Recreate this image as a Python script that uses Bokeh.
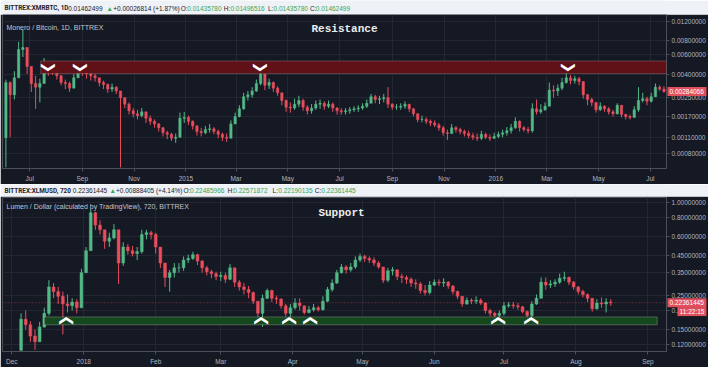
import numpy as np
import pandas as pd
from math import pi
from bokeh.plotting import figure
from bokeh.models import (Range1d, FixedTicker, Label, BoxAnnotation, Span,
                          ColumnDataSource, PrintfTickFormatter)
from bokeh.layouts import column
from bokeh.embed import file_html
from bokeh.resources import INLINE
from bokeh.core.properties import value

# ---------------- data: XMR/BTC (5-day candles) ----------------
xmr_start = "2014-06-03"
xmr_step = "5D"
xmr_open0 = 0.00110
xmr_close = [0.00341, 0.00265, 0.00376, 0.00671, 0.00698, 0.00474, 0.00334, 0.00310, 0.00334, 0.00456,
             0.00439, 0.00430, 0.00391, 0.00341, 0.00334, 0.00304, 0.00376, 0.00430, 0.00414, 0.00406,
             0.00391, 0.00376, 0.00341, 0.00328, 0.00298, 0.00310, 0.00287, 0.00250, 0.00219, 0.00191,
             0.00180, 0.00173, 0.00187, 0.00164, 0.00154, 0.00146, 0.00135, 0.00122, 0.00118, 0.00109,
             0.00111, 0.00164, 0.00167, 0.00154, 0.00140, 0.00125, 0.00122, 0.00130, 0.00132, 0.00125,
             0.00118, 0.00111, 0.00109, 0.00146, 0.00170, 0.00199, 0.00255, 0.00265, 0.00287, 0.00334,
             0.00406, 0.00322, 0.00341, 0.00304, 0.00276, 0.00236, 0.00206, 0.00202, 0.00219, 0.00236,
             0.00206, 0.00191, 0.00202, 0.00219, 0.00223, 0.00210, 0.00219, 0.00202, 0.00191, 0.00187,
             0.00191, 0.00195, 0.00199, 0.00202, 0.00210, 0.00223, 0.00255, 0.00241, 0.00245, 0.00250,
             0.00219, 0.00206, 0.00206, 0.00210, 0.00219, 0.00199, 0.00180, 0.00160, 0.00160, 0.00154,
             0.00149, 0.00143, 0.00135, 0.00122, 0.00120, 0.00135, 0.00130, 0.00125, 0.00120, 0.00115,
             0.00111, 0.00109, 0.00118, 0.00111, 0.00109, 0.00113, 0.00118, 0.00122, 0.00127, 0.00135,
             0.00154, 0.00135, 0.00130, 0.00127, 0.00199, 0.00187, 0.00195, 0.00210, 0.00292, 0.00287,
             0.00304, 0.00341, 0.00376, 0.00355, 0.00369, 0.00348, 0.00265, 0.00241, 0.00227, 0.00195,
             0.00210, 0.00199, 0.00187, 0.00180, 0.00214, 0.00177, 0.00170, 0.00167, 0.00195, 0.00236,
             0.00245, 0.00232, 0.00255, 0.00310, 0.00298, 0.00284066]
xmr_high = [0.00362, 0.00348, 0.00430, 0.00784, 0.01008, 0.00634, 0.00474, 0.00391, 0.00369, 0.00564,
            0.00502, 0.00474, 0.00447, 0.00398, 0.00362, 0.00348, 0.00406, 0.00456, 0.00456, 0.00439,
            0.00422, 0.00406, 0.00376, 0.00355, 0.00334, 0.00334, 0.00316, 0.00270, 0.00245, 0.00227,
            0.00202, 0.00195, 0.00202, 0.00184, 0.00173, 0.00160, 0.00149, 0.00137, 0.00127, 0.00122,
            0.00120, 0.00184, 0.00187, 0.00173, 0.00157, 0.00143, 0.00135, 0.00140, 0.00146, 0.00137,
            0.00130, 0.00122, 0.00120, 0.00157, 0.00184, 0.00214, 0.00276, 0.00287, 0.00310, 0.00362,
            0.00447, 0.00406, 0.00369, 0.00348, 0.00316, 0.00276, 0.00241, 0.00227, 0.00245, 0.00260,
            0.00245, 0.00214, 0.00219, 0.00236, 0.00241, 0.00232, 0.00236, 0.00227, 0.00206, 0.00202,
            0.00202, 0.00206, 0.00210, 0.00214, 0.00223, 0.00241, 0.00270, 0.00265, 0.00260, 0.00270,
            0.00310, 0.00223, 0.00219, 0.00223, 0.00232, 0.00219, 0.00202, 0.00180, 0.00173, 0.00167,
            0.00160, 0.00157, 0.00149, 0.00140, 0.00130, 0.00146, 0.00140, 0.00135, 0.00130, 0.00127,
            0.00122, 0.00120, 0.00127, 0.00122, 0.00118, 0.00122, 0.00125, 0.00130, 0.00137, 0.00146,
            0.00167, 0.00157, 0.00140, 0.00137, 0.00223, 0.00241, 0.00219, 0.00227, 0.00341, 0.00322,
            0.00328, 0.00376, 0.00414, 0.00398, 0.00391, 0.00383, 0.00334, 0.00270, 0.00250, 0.00219,
            0.00227, 0.00214, 0.00206, 0.00195, 0.00223, 0.00202, 0.00180, 0.00177, 0.00210, 0.00310,
            0.00276, 0.00255, 0.00276, 0.00334, 0.00322, 0.00316]
xmr_low = [0.00060, 0.00111, 0.00241, 0.00391, 0.00575, 0.00406, 0.00281, 0.00199, 0.00227, 0.00334,
           0.00391, 0.00398, 0.00362, 0.00322, 0.00298, 0.00281, 0.00310, 0.00376, 0.00391, 0.00369,
           0.00355, 0.00348, 0.00316, 0.00298, 0.00276, 0.00281, 0.00270, 0.00060, 0.00202, 0.00177,
           0.00167, 0.00160, 0.00167, 0.00149, 0.00143, 0.00135, 0.00125, 0.00113, 0.00107, 0.00103,
           0.00099, 0.00115, 0.00149, 0.00143, 0.00130, 0.00115, 0.00113, 0.00118, 0.00122, 0.00118,
           0.00109, 0.00103, 0.00101, 0.00118, 0.00146, 0.00167, 0.00195, 0.00236, 0.00250, 0.00281,
           0.00322, 0.00292, 0.00298, 0.00281, 0.00260, 0.00214, 0.00187, 0.00184, 0.00195, 0.00206,
           0.00191, 0.00177, 0.00180, 0.00195, 0.00199, 0.00195, 0.00202, 0.00187, 0.00177, 0.00177,
           0.00177, 0.00180, 0.00187, 0.00187, 0.00195, 0.00202, 0.00223, 0.00223, 0.00219, 0.00227,
           0.00202, 0.00195, 0.00195, 0.00195, 0.00199, 0.00187, 0.00170, 0.00151, 0.00151, 0.00146,
           0.00140, 0.00137, 0.00127, 0.00115, 0.00105, 0.00120, 0.00122, 0.00118, 0.00113, 0.00109,
           0.00105, 0.00103, 0.00105, 0.00107, 0.00103, 0.00107, 0.00109, 0.00111, 0.00115, 0.00120,
           0.00132, 0.00125, 0.00125, 0.00120, 0.00122, 0.00177, 0.00180, 0.00191, 0.00210, 0.00250,
           0.00260, 0.00292, 0.00334, 0.00328, 0.00334, 0.00322, 0.00245, 0.00214, 0.00210, 0.00184,
           0.00191, 0.00187, 0.00177, 0.00170, 0.00177, 0.00167, 0.00160, 0.00160, 0.00170, 0.00187,
           0.00227, 0.00214, 0.00227, 0.00260, 0.00287, 0.00276]

xmr_ticks = ["2014-07-01", "2014-09-01", "2014-11-01", "2015-01-01", "2015-03-01", "2015-05-01",
             "2015-07-01", "2015-09-01", "2015-11-01", "2016-01-01", "2016-03-01", "2016-05-01",
             "2016-07-01"]
xmr_tick_labels = ["Jul", "Sep", "Nov", "2015", "Mar", "May", "Jul", "Sep", "Nov", "2016", "Mar", "May", "Jul"]
xmr_yticks = [0.0008, 0.0011, 0.0017, 0.0025, 0.004, 0.006, 0.008, 0.012]
xmr_band = [0.0041, 0.0053]
xmr_band_start = "2014-07-14"
xmr_touches = ["2014-07-24", "2014-08-31", "2015-03-31", "2016-03-27"]
xmr_last = 0.00284066

# ---------------- data: XLM/USD (2-day candles) ----------------
xlm_start = "2017-12-05"
xlm_step = "2D"
xlm_open0 = 0.110
xlm_close = [0.175, 0.161, 0.136, 0.125, 0.156, 0.191, 0.283, 0.264, 0.246, 0.2196,
             0.2135, 0.226, 0.2075, 0.350, 0.486, 0.855, 0.712, 0.663, 0.559, 0.588,
             0.663, 0.404, 0.513, 0.486, 0.465, 0.479, 0.618, 0.635, 0.618, 0.513,
             0.404, 0.326, 0.350, 0.376, 0.376, 0.423, 0.433, 0.458, 0.416, 0.376,
             0.355, 0.345, 0.331, 0.336, 0.317, 0.376, 0.304, 0.283, 0.272, 0.260,
             0.229, 0.191, 0.239, 0.268, 0.239, 0.236, 0.2135, 0.191, 0.2075, 0.2227,
             0.2135, 0.1933, 0.2017, 0.2075, 0.2017, 0.229, 0.272, 0.300, 0.350, 0.381,
             0.365, 0.381, 0.423, 0.446, 0.433, 0.423, 0.404, 0.381, 0.313, 0.360,
             0.365, 0.331, 0.326, 0.317, 0.300, 0.296, 0.268, 0.260, 0.291, 0.304,
             0.300, 0.304, 0.287, 0.264, 0.246, 0.2196, 0.232, 0.229, 0.232, 0.2227,
             0.199, 0.191, 0.185, 0.191, 0.2135, 0.2165, 0.2135, 0.2105, 0.196, 0.185,
             0.2196, 0.239, 0.304, 0.291, 0.296, 0.304, 0.322, 0.326, 0.304, 0.283,
             0.264, 0.253, 0.239, 0.2046, 0.2227, 0.2196, 0.226, 0.22361445]
xlm_high = [0.1906, 0.199, 0.170, 0.150, 0.168, 0.2075, 0.313, 0.300, 0.283, 0.264,
            0.253, 0.239, 0.236, 0.371, 0.513, 0.906, 0.868, 0.764, 0.663, 0.635,
            0.722, 0.663, 0.551, 0.536, 0.521, 0.513, 0.663, 0.663, 0.654, 0.635,
            0.499, 0.404, 0.365, 0.404, 0.404, 0.446, 0.458, 0.479, 0.465, 0.423,
            0.387, 0.365, 0.355, 0.355, 0.350, 0.398, 0.360, 0.313, 0.300, 0.287,
            0.264, 0.229, 0.253, 0.2755, 0.2716, 0.249, 0.239, 0.2196, 0.2196, 0.239,
            0.239, 0.2105, 0.2135, 0.2196, 0.2135, 0.246, 0.283, 0.317, 0.365, 0.398,
            0.392, 0.404, 0.446, 0.465, 0.458, 0.446, 0.440, 0.416, 0.376, 0.376,
            0.381, 0.360, 0.345, 0.336, 0.326, 0.317, 0.304, 0.291, 0.309, 0.317,
            0.317, 0.322, 0.309, 0.291, 0.268, 0.246, 0.242, 0.239, 0.246, 0.239,
            0.226, 0.2046, 0.196, 0.199, 0.226, 0.226, 0.226, 0.2227, 0.2135, 0.199,
            0.229, 0.253, 0.326, 0.326, 0.313, 0.317, 0.345, 0.355, 0.331, 0.309,
            0.287, 0.2716, 0.2566, 0.239, 0.236, 0.242, 0.239, 0.236]
xlm_low = [0.108, 0.150, 0.125, 0.111, 0.125, 0.154, 0.185, 0.239, 0.2196, 0.1395,
           0.1933, 0.199, 0.1906, 0.2075, 0.350, 0.486, 0.663, 0.618, 0.499, 0.513,
           0.575, 0.296, 0.387, 0.458, 0.446, 0.423, 0.465, 0.575, 0.575, 0.465,
           0.376, 0.283, 0.264, 0.326, 0.350, 0.360, 0.404, 0.423, 0.392, 0.350,
           0.336, 0.322, 0.313, 0.309, 0.300, 0.313, 0.283, 0.268, 0.253, 0.239,
           0.2196, 0.1801, 0.156, 0.236, 0.226, 0.2196, 0.2046, 0.1826, 0.1801, 0.2017,
           0.199, 0.188, 0.1906, 0.196, 0.196, 0.199, 0.226, 0.264, 0.296, 0.345,
           0.345, 0.355, 0.371, 0.410, 0.410, 0.404, 0.387, 0.371, 0.300, 0.304,
           0.336, 0.313, 0.300, 0.296, 0.283, 0.2755, 0.2566, 0.249, 0.253, 0.287,
           0.287, 0.283, 0.2755, 0.253, 0.236, 0.2105, 0.2165, 0.2196, 0.2196, 0.2165,
           0.1906, 0.1826, 0.1775, 0.1775, 0.185, 0.2075, 0.2046, 0.2017, 0.1906, 0.1775,
           0.1801, 0.2165, 0.239, 0.2716, 0.279, 0.283, 0.296, 0.309, 0.291, 0.2716,
           0.253, 0.242, 0.226, 0.196, 0.2017, 0.2075, 0.1933, 0.2135]

xlm_ticks = ["2017-12-01", "2018-01-01", "2018-02-01", "2018-03-01", "2018-04-01", "2018-05-01",
             "2018-06-01", "2018-07-01", "2018-08-01", "2018-09-01"]
xlm_tick_labels = ["Dec", "2018", "Feb", "Mar", "Apr", "May", "Jun", "Jul", "Aug", "Sep"]
xlm_yticks = [0.12, 0.15, 0.2, 0.25, 0.35, 0.45, 0.6, 0.8, 1.0]
xlm_band = [0.161, 0.181]
xlm_band_range = ["2017-12-15", "2018-09-05"]
xlm_touches = ["2017-12-24", "2018-03-18", "2018-03-30", "2018-04-08", "2018-06-28", "2018-07-12"]
xlm_last = 0.22361445
xlm_timer = "11:22:15"

# header texts
hdr1_texts = ["BITTREX:XMRBTC, 1D", "0.01462499", "\u25b2", "+0.00026814 (+1.87%)", "O:", "0.01435780",
              "H:", "0.01496516", "L:", "0.01435780", "C:", "0.01462499"]
hdr2_texts = ["BITTREX:XLMUSD, 720", "0.22361445", "\u25b2", "+0.00888405 (+4.14%)", "O:", "0.22485966",
              "H:", "0.22571872", "L:", "0.22190135", "C:", "0.22361445"]

# ---------------- style / layout ----------------
W = 708
BL, BR = 2, 41            # left / right borders of the chart frames
FW = W - BL - BR          # frame width in px
BG = "#151924"
GRID = "#232733"
AXC = "#4c505b"
LBL = "#b2b5be"
UP, DOWN = "#53b987", "#eb4d5c"
TAG = "#e0505c"
HDR_BG = "#eef1f5"
DARK, GREEN = "#1e222d", "#3aa655"
FONT = "Liberation Sans"


def ms(s):
    return pd.Timestamp(s).value / 1e6


def header(texts, ref_x, h, y):
    p = figure(width=W, height=h, x_range=Range1d(0, W), y_range=Range1d(0, h),
               output_backend="svg", toolbar_location=None, min_border=0,
               background_fill_color=HDR_BG, border_fill_color=HDR_BG, outline_line_color=None)
    p.axis.visible = False
    p.grid.visible = False
    cols = [DARK, DARK, GREEN, DARK, DARK, GREEN, DARK, GREEN, DARK, GREEN, DARK, GREEN]
    p.text(x=ref_x[:1], y=[y], text=texts[:1], text_color=DARK, text_font=value("Roboto"),
           text_font_size="6.4px", text_font_style="bold", text_baseline="middle")
    p.text(x=ref_x[1:], y=[y] * (len(ref_x) - 1), text=texts[1:], text_color=cols[1:],
           text_font=value(FONT), text_font_size="6.5px", text_baseline="middle")
    return p


def chart(h, bt, bb, x0, x1, ylo, yhi, ticks, tick_labels, yticks):
    p = figure(width=W, height=h, x_axis_type="datetime", y_axis_type="log",
               y_axis_location="right", x_range=Range1d(ms(x0), ms(x1)), y_range=Range1d(ylo, yhi),
               output_backend="svg", toolbar_location=None,
               min_border_left=BL, min_border_right=BR, min_border_top=bt, min_border_bottom=bb,
               background_fill_color=BG, border_fill_color=BG, outline_line_color=None)
    xt = FixedTicker(ticks=[ms(t) for t in ticks])
    p.xaxis.ticker = xt
    p.xgrid.ticker = xt
    p.xaxis.major_label_overrides = {ms(t): l for t, l in zip(ticks, tick_labels)}
    yt = FixedTicker(ticks=yticks)
    p.yaxis.ticker = yt
    p.ygrid.ticker = yt
    p.yaxis.formatter = PrintfTickFormatter(format="%.8f")
    for ax in (p.xaxis[0], p.yaxis[0]):
        ax.axis_line_color = AXC
        ax.major_tick_line_color = AXC
        ax.major_tick_out = 3
        ax.major_tick_in = 0
        ax.minor_tick_line_color = None
        ax.major_label_text_color = LBL
        ax.major_label_text_font = FONT
        ax.major_label_text_font_size = "6.5px"
    p.yaxis.major_label_standoff = 2
    p.xaxis.major_label_standoff = 3
    p.grid.grid_line_color = GRID
    return p


def candles(p, start, step, open0, close, high, low, width_days):
    c = np.array(close, dtype=float)
    o = np.concatenate([[open0], c[:-1]])
    hi = np.maximum(np.array(high, dtype=float), np.maximum(o, c))
    lo = np.minimum(np.array(low, dtype=float), np.minimum(o, c))
    d = pd.date_range(start, periods=len(c), freq=step)
    for mask, col in ((c >= o, UP), (c < o, DOWN)):
        src = ColumnDataSource(dict(x=d[mask], hi=hi[mask], lo=lo[mask],
                                    top=np.maximum(o, c)[mask], bot=np.minimum(o, c)[mask]))
        p.segment(x0="x", y0="lo", x1="x", y1="hi", source=src, line_color=col, line_width=1)
        p.vbar(x="x", width=width_days * 86400000, top="top", bottom="bot", source=src,
               fill_color=col, line_color=col, line_width=0.5)


def tag(p, y, text, px_from, px_w, align="left"):
    """price tag drawn just right of the frame (over the axis strip), px measured from frame right edge"""
    x0, x1 = p.x_range.start, p.x_range.end
    k = (x1 - x0) / FW
    p.rect(x=[x1 + (px_from + px_w / 2) * k], y=[y], width=px_w, height=9, width_units="screen",
           height_units="screen", fill_color=TAG, line_color=None, level="overlay")
    tx = x1 + (px_from + 2) * k if align == "left" else x1 + (px_from + px_w - 2) * k
    p.text(x=[tx], y=[y], text=[text], text_color="white", text_font=value(FONT), text_font_size="6.5px",
           text_baseline="middle", text_align=align, level="overlay")


# ---------------- header 1 ----------------
h1 = header(hdr1_texts, [2, 70, 111, 118, 190, 197, 236, 243, 283, 289, 328, 334], 14, 6.5)

# ---------------- chart 1 : XMR/BTC ----------------
p1 = chart(170, 0, 14, "2014-05-30", "2016-07-20", 0.000586, 0.01374,
           xmr_ticks, xmr_tick_labels, xmr_yticks)
candles(p1, xmr_start, xmr_step, xmr_open0, xmr_close, xmr_high, xmr_low, 2.8)
p1.add_layout(BoxAnnotation(left=ms(xmr_band_start), right=ms("2016-07-20"), bottom=xmr_band[0],
                            top=xmr_band[1], fill_color="#641118", fill_alpha=0.96,
                            line_color="#c9a4a6", line_width=1))
lvl1 = float(np.sqrt(xmr_band[0] * xmr_band[1]))
p1.text(x=pd.to_datetime(xmr_touches), y=[lvl1] * len(xmr_touches), text=["\u276f"] * len(xmr_touches),
        angle=-pi / 2, text_color="white", text_font=value("DejaVu Sans"), text_font_style="bold",
        text_font_size="14px", text_align="center", text_baseline="middle", level="overlay")
p1.add_layout(Label(x=4, y=141, x_units="screen", y_units="screen", text="Monero / Bitcoin, 1D, BITTREX",
                    text_color="#c3c6ce", text_font=FONT, text_font_size="7px", text_baseline="middle"))
p1.add_layout(Label(x=342, y=140, x_units="screen", y_units="screen", text="Resistance",
                    text_color="#ececec", text_font="Liberation Mono", text_font_style="bold",
                    text_font_size="11px", text_align="center", text_baseline="middle"))
tag(p1, xmr_last, "%.8f" % xmr_last, 1, 39)

# ---------------- header 2 ----------------
h2 = header(hdr2_texts, [2, 75, 114, 121, 193, 200, 240, 246, 288, 294, 333, 340], 12, 6.0)

# ---------------- chart 2 : XLM/USD ----------------
p2 = chart(171, 1, 15, "2017-11-27", "2018-09-09", 0.1081, 1.0734,
           xlm_ticks, xlm_tick_labels, xlm_yticks)
p2.add_layout(Span(location=xlm_last, dimension="width", line_color=TAG, line_alpha=0.55,
                   line_dash="1 2", line_width=1))
candles(p2, xlm_start, xlm_step, xlm_open0, xlm_close, xlm_high, xlm_low, 1.2)
p2.add_layout(BoxAnnotation(left=ms(xlm_band_range[0]), right=ms(xlm_band_range[1]), bottom=xlm_band[0],
                            top=xlm_band[1], fill_color="#164a1c", fill_alpha=0.96,
                            line_color="#c6d6c6", line_width=1))
lvl2 = float(np.sqrt(xlm_band[0] * xlm_band[1]))
p2.text(x=pd.to_datetime(xlm_touches), y=[lvl2] * len(xlm_touches), text=["\u276f"] * len(xlm_touches),
        angle=pi / 2, text_color="white", text_font=value("DejaVu Sans"), text_font_style="bold",
        text_font_size="14px", text_align="center", text_baseline="middle", level="overlay")
p2.add_layout(Label(x=4, y=145, x_units="screen", y_units="screen",
                    text="Lumen / Dollar (calculated by TradingView), 720, BITTREX",
                    text_color="#c3c6ce", text_font=FONT, text_font_size="7px", text_baseline="middle"))
p2.add_layout(Label(x=339, y=139, x_units="screen", y_units="screen", text="Support",
                    text_color="#ececec", text_font="Liberation Mono", text_font_style="bold",
                    text_font_size="11px", text_align="center", text_baseline="middle"))
tag(p2, xlm_last, "%.8f" % xlm_last, 1, 39)
tag(p2, 0.196, xlm_timer, 11, 29, align="right")

layout = column(h1, p1, h2, p2, spacing=0)
open("out.html", "w").write(file_html(layout, INLINE))
